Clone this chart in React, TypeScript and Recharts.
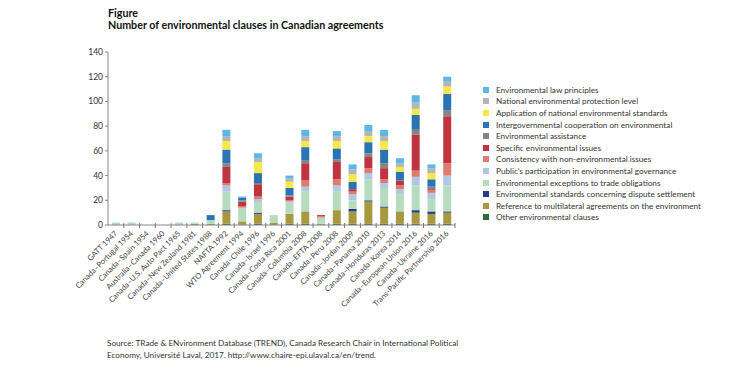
import { Bar, BarChart, XAxis, YAxis } from "recharts"

const categories = [
  "GATT 1947",
  "Canada–Portugal 1954",
  "Canada–Spain 1954",
  "Australia–Canada 1960",
  "Canada–U.S. Auto Pact 1965",
  "Canada–New Zealand 1981",
  "Canada–United States 1988",
  "NAFTA 1992",
  "WTO Agreement 1994",
  "Canada–Chile 1996",
  "Canada–Israel 1996",
  "Canada–Costa Rica 2001",
  "Canada–Columbia 2008",
  "Canada–EFTA 2008",
  "Canada–Peru 2008",
  "Canada–Jordan 2009",
  "Canada–Panama 2010",
  "Canada–Honduras 2013",
  "Canada–Korea 2014",
  "Canada–European Union 2016",
  "Canada–Ukraine 2016",
  "Trans-Pacific Partnership 2016",
]

// stacked bottom to top
const other = [0, 0, 0, 0, 0, 0, 0, 1, 0, 1, 0, 1, 1, 0, 1, 1, 1, 1, 1, 1, 1, 1]
const reference = [0, 0, 0, 0, 0, 1, 1, 10, 3, 8, 2, 8, 10, 1, 11, 10, 18, 13, 10, 9, 8, 9]
const dispute = [0, 0, 0, 0, 0, 0, 0, 1, 0, 1, 0, 0, 0, 0, 0, 2, 1, 1, 0, 2, 2, 1]
const exceptions = [2, 2, 0, 0, 2, 1, 3, 15, 11, 8, 6, 9, 16, 5, 15, 7, 17, 15, 14, 20, 10, 21]
const publicPart = [0, 0, 0, 0, 0, 0, 0, 5, 0, 3, 0, 1, 4, 0, 5, 5, 5, 4, 4, 7, 5, 8]
const consistency = [0, 0, 0, 0, 0, 0, 0, 2, 1, 2, 0, 1, 5, 1, 5, 2, 4, 3, 3, 5, 2, 10]
const specific = [0, 0, 0, 0, 0, 0, 0, 13, 4, 10, 0, 3, 14, 1, 14, 2, 9, 9, 4, 29, 1, 38]
const assistance = [0, 0, 0, 0, 0, 0, 0, 3, 1, 1, 0, 1, 2, 0, 2, 0, 3, 4, 0, 4, 2, 5]
const intergov = [0, 0, 0, 0, 0, 0, 4, 11, 2, 8, 0, 6, 11, 0, 9, 6, 9, 11, 7, 12, 6, 13]
const application = [0, 0, 0, 0, 0, 0, 0, 7, 0, 9, 0, 5, 5, 0, 6, 6, 5, 7, 4, 5, 5, 6]
const national = [0, 0, 0, 0, 0, 0, 0, 4, 0, 3, 0, 3, 4, 0, 4, 4, 4, 4, 3, 5, 4, 4]
const lawPrinciples = [0, 0, 0, 0, 0, 0, 0, 5, 1, 4, 0, 2, 5, 0, 4, 4, 5, 5, 4, 6, 3, 4]

const yTicks = [0, 20, 40, 60, 80, 100, 120, 140]

const series = [
  { key: "other", name: "Other environmental clauses", color: "#2d6a36", values: other },
  { key: "reference", name: "Reference to multilateral agreements on the environment", color: "#a8983f", values: reference },
  { key: "dispute", name: "Environmental standards concerning dispute settlement", color: "#233b8b", values: dispute },
  { key: "exceptions", name: "Environmental exceptions to trade obligations", color: "#b5dcbf", values: exceptions },
  { key: "publicPart", name: "Public’s participation in environmental governance", color: "#b0c8e2", values: publicPart },
  { key: "consistency", name: "Consistency with non-environmental issues", color: "#de7b6e", values: consistency },
  { key: "specific", name: "Specific environmental issues", color: "#c0343f", values: specific },
  { key: "assistance", name: "Environmental assistance", color: "#858585", values: assistance },
  { key: "intergov", name: "Intergovernmental cooperation on environmental", color: "#2b74b4", values: intergov },
  { key: "application", name: "Application of national environmental standards", color: "#f6e74a", values: application },
  { key: "national", name: "National environmental protection level", color: "#b5b5b5", values: national },
  { key: "lawPrinciples", name: "Environmental law principles", color: "#5bb7e6", values: lawPrinciples },
]

const data = categories.map((name, i) => {
  const row: Record<string, string | number> = { name }
  series.forEach((s) => (row[s.key] = s.values[i]))
  return row
})

const FONT = "Lato, 'Open Sans', sans-serif"
const PLOT_LEFT = 108
const PLOT_RIGHT = 455
const SLOT = (PLOT_RIGHT - PLOT_LEFT) / categories.length

function XTick(props: any) {
  const { x, y, payload } = props
  const tx = x + 2
  const ty = y + 9
  return (
    <g>
      <line x1={x + SLOT / 2} x2={x + SLOT / 2} y1={y - 2} y2={y + 3} stroke="#777" strokeWidth={1} />
      <text
        x={tx}
        y={ty}
        transform={`rotate(-45 ${tx} ${ty})`}
        textAnchor="end"
        fontSize={7.7}
        fill="#444"
        fontFamily={FONT}
      >
        {payload.value}
      </text>
    </g>
  )
}

export default function App() {
  return (
    <div style={{ position: "absolute", left: 0, top: 0, width: 731, height: 376, background: "#fff", fontFamily: FONT }}>
      <div style={{ position: "absolute", left: 108, top: 7, fontSize: 10.7, fontWeight: 700, lineHeight: "12px", color: "#111" }}>
        Figure
        <br />
        Number of environmental clauses in Canadian agreements
      </div>

      <BarChart
        width={731}
        height={376}
        data={data}
        margin={{ top: 52, right: 731 - PLOT_RIGHT, bottom: 51, left: PLOT_LEFT - 30 }}
        barSize={8}
      >
        <XAxis
          dataKey="name"
          height={100}
          interval={0}
          tickSize={0}
          tickMargin={0}
          axisLine={{ stroke: "#888" }}
          tick={<XTick />}
        />
        <YAxis
          width={30}
          domain={[0, 140]}
          ticks={yTicks}
          tickSize={3}
          tickMargin={2}
          axisLine={{ stroke: "#888" }}
          tickLine={{ stroke: "#888" }}
          tick={{ fontSize: 8.5, fill: "#333", fontFamily: FONT }}
        />
        {series.map((s) => (
          <Bar key={s.key} dataKey={s.key} name={s.name} stackId="a" fill={s.color} isAnimationActive={false} />
        ))}
      </BarChart>

      <div style={{ position: "absolute", left: 483, top: 84 }}>
        {[...series].reverse().map((s) => (
          <div key={s.key} style={{ display: "flex", alignItems: "center", height: 11.6, fontSize: 8.2, color: "#333" }}>
            <span style={{ display: "inline-block", width: 6, height: 6, background: s.color, marginRight: 7 }} />
            {s.name}
          </div>
        ))}
      </div>

      <div style={{ position: "absolute", left: 107, top: 337, fontSize: 8.2, lineHeight: "12px", color: "#333" }}>
        Source: TRade &amp; ENvironment Database (TREND), Canada Research Chair in International Political
        <br />
        Economy, Université Laval, 2017. http://www.chaire-epi.ulaval.ca/en/trend.
      </div>
    </div>
  )
}
